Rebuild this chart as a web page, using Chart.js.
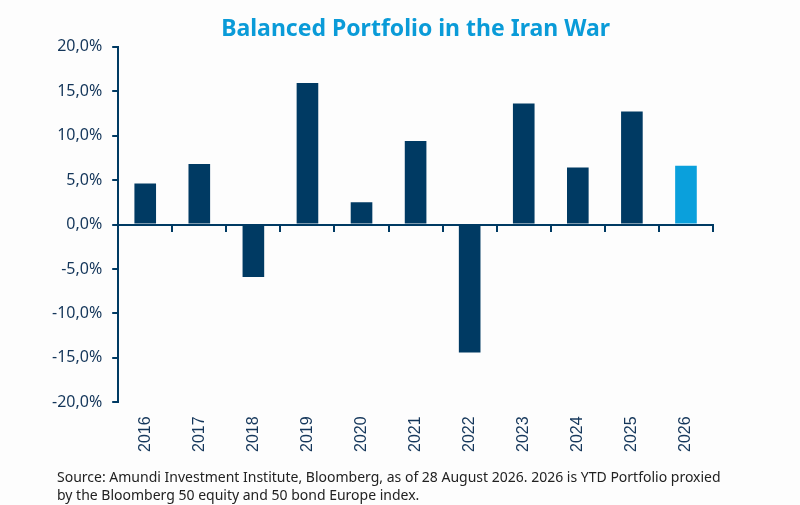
<!DOCTYPE html>
<html>
<head>
<meta charset="utf-8">
<script src="https://cdn.jsdelivr.net/npm/chart.js@4.4.1/dist/chart.umd.min.js"></script>
<style>
html,body{margin:0;padding:0;background:#fdfdfd;}
#wrap{position:relative;width:800px;height:505px;}
</style>
</head>
<body>
<div id="wrap"><canvas id="c" width="800" height="505"></canvas></div>
<script>
const years = ['2016','2017','2018','2019','2020','2021','2022','2023','2024','2025','2026'];
const returns = [4.6, 6.8, -5.9, 15.9, 2.5, 9.4, -14.4, 13.6, 6.4, 12.7, 6.6];
const highlightYear = '2026';
const titleText = 'Balanced Portfolio in the Iran War';
const footnoteLines = [
  'Source: Amundi Investment Institute, Bloomberg, as of 28 August 2026. 2026 is YTD Portfolio proxied',
  'by the Bloomberg 50 equity and 50 bond Europe index.'
];

const NAVY = '#003a63';
const LIGHT = '#0aa0dc';
const TEXT = '#14365a';

const footnotePlugin = {
  id: 'footnote',
  afterDraw(chart) {
    const ctx = chart.ctx;
    ctx.save();
    ctx.font = '14px "Noto Sans"';
    ctx.fillStyle = '#222222';
    ctx.textBaseline = 'alphabetic';
    ctx.textAlign = 'left';
    ctx.fillText(footnoteLines[0], 57, 482);
    ctx.fillText(footnoteLines[1], 57, 500);
    ctx.restore();
  }
};

new Chart(document.getElementById('c'), {
  type: 'bar',
  data: {
    labels: years,
    datasets: [{
      data: returns,
      backgroundColor: years.map(y => y === highlightYear ? LIGHT : NAVY),
      categoryPercentage: 1,
      barPercentage: 0.4,
      xAxisID: 'x',
      yAxisID: 'y'
    }]
  },
  options: {
    responsive: false,
    animation: false,
    devicePixelRatio: 1,
    layout: { padding: { left: 42, right: 87, bottom: 47, top: 0 } },
    plugins: {
      legend: { display: false },
      tooltip: { enabled: false },
      title: {
        display: true,
        text: titleText,
        fullSize: false,
        color: '#0a9bd8',
        font: { family: '"Noto Sans"', size: 23, weight: 'bold' },
        padding: { top: 16, bottom: 3 }
      }
    },
    scales: {
      x: {
        type: 'category',
        position: { y: 0 },
        grid: { drawOnChartArea: false, drawTicks: true, tickLength: 6, color: NAVY, lineWidth: 2, offset: true },
        border: { display: true, color: NAVY, width: 2 },
        ticks: { display: false }
      },
      x2: {
        type: 'category',
        labels: years,
        position: 'bottom',
        offset: true,
        grid: { display: false },
        border: { display: false },
        ticks: {
          minRotation: 90, maxRotation: 90, autoSkip: false, padding: 6,
          color: TEXT,
          font: { family: '"Liberation Sans"', size: 16 }
        }
      },
      y: {
        min: -20, max: 20,
        grid: { drawOnChartArea: false, drawTicks: true, tickLength: 6, color: NAVY, lineWidth: 2 },
        border: { display: true, color: NAVY, width: 2 },
        ticks: {
          stepSize: 5, padding: 10, color: TEXT,
          font: { family: '"Noto Sans"', size: 16 },
          callback: v => v.toFixed(1).replace('.', ',') + '%'
        }
      }
    }
  },
  plugins: [footnotePlugin]
});
</script>
</body>
</html>
